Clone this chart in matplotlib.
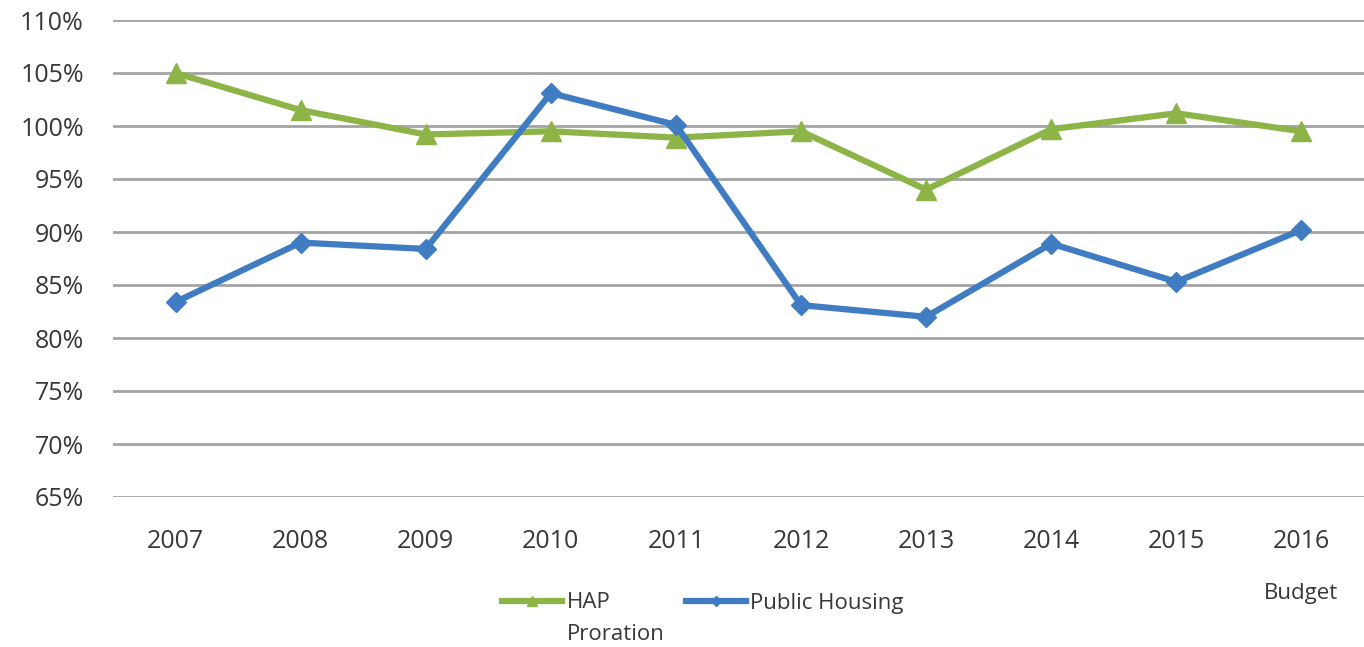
import matplotlib.pyplot as plt
import numpy as np
from matplotlib.ticker import FuncFormatter, MultipleLocator
from matplotlib.transforms import blended_transform_factory

# Datos
years = ['2007', '2008', '2009', '2010', '2011', '2012', '2013', '2014', '2015', '2016']
hap_proration = [105.0, 101.5, 99.2, 99.5, 98.9, 99.5, 94.0, 99.7, 101.2, 99.5]
public_housing = [83.4, 89.0, 88.4, 103.1, 100.1, 83.1, 82.0, 88.9, 85.3, 90.2]

green = '#8cb446'
blue = '#3f7cc2'
txt = '#383838'

plt.rcParams['font.family'] = ['Open Sans', 'DejaVu Sans']

fig = plt.figure(figsize=(13.64, 6.47), dpi=100)
ax = fig.add_axes([113 / 1364, 1 - 497 / 647, 1 - 113 / 1364, 477 / 647])

x = np.arange(len(years))
l1, = ax.plot(x, hap_proration, color=green, lw=4.5, marker='^', ms=14,
              label='HAP', zorder=3)
l2, = ax.plot(x, public_housing, color=blue, lw=4.5, marker='D', ms=10,
              label='Public Housing', zorder=3)

ax.set_xlim(-0.5, len(years) - 0.5)
ax.set_ylim(65, 110)
ax.yaxis.set_major_locator(MultipleLocator(5))
ax.yaxis.set_major_formatter(FuncFormatter(lambda v, p: f'{v:.0f}%'))
ax.grid(axis='y', color='#a3a3a3', lw=2)
ax.set_axisbelow(True)
for s in ax.spines.values():
    s.set_visible(False)
ax.set_xticks(x)
ax.set_xticklabels(years)
ax.tick_params(length=0, labelsize=18, labelcolor=txt)
ax.tick_params(axis='x', pad=23)
ax.tick_params(axis='y', pad=21)

# "Budget" bajo 2016
tr = blended_transform_factory(ax.transData, fig.transFigure)
ax.text(x[-1], 1 - 593 / 647, 'Budget', transform=tr, ha='center', va='center',
        fontsize=16, color=txt)

leg = fig.legend(handles=[l1, l2], loc='center', bbox_to_anchor=(703 / 1364, 1 - 603 / 647),
                 ncol=2, frameon=False, fontsize=16, markerscale=0.5,
                 handlelength=2.7, columnspacing=3.4, handletextpad=0.2)
for t in leg.get_texts():
    t.set_color(txt)

# segunda línea de la etiqueta HAP
fig.canvas.draw()
bb = leg.get_texts()[0].get_window_extent().transformed(fig.transFigure.inverted())
fig.text(bb.x0, 1 - 635 / 647, 'Proration', ha='left', va='center',
         fontsize=16, color=txt)

fig.savefig('out.png', dpi=100)
